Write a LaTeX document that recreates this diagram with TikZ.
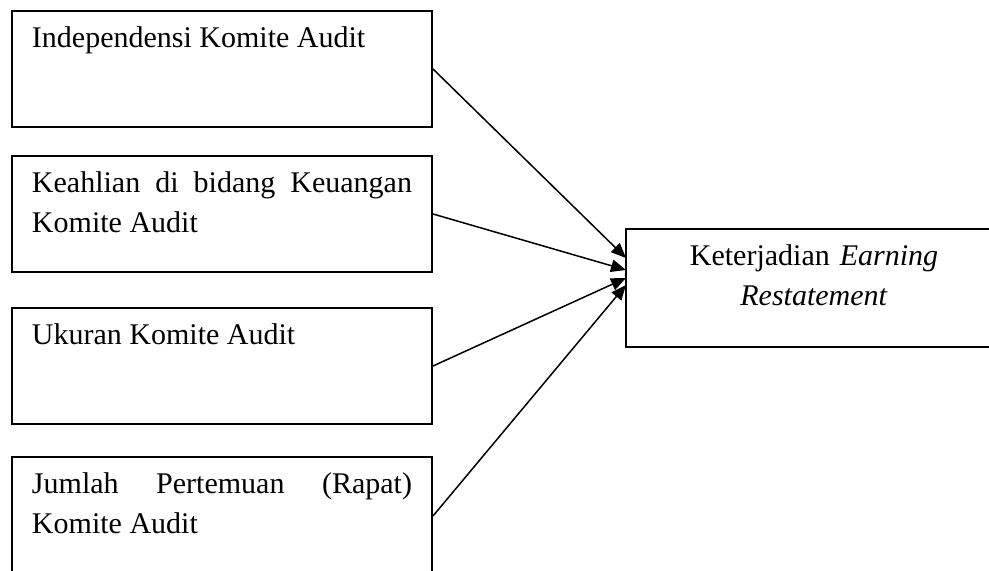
\documentclass[tikz,border=0pt]{standalone}
\usepackage{fontspec}
\setmainfont{Liberation Serif}
\usetikzlibrary{arrows.meta}

\tikzset{
  var/.style={draw, line width=0.8pt, anchor=north west, text width=152pt,
    align=justify, inner xsep=8pt, inner ysep=0pt, text height=14.8pt,
    text depth=31.6pt, font=\fontsize{12}{15.8}\selectfont},
  dep/.style={var, draw=none, text width=133.6pt, align=center},
  link/.style={-{Triangle[length=6pt,width=5pt]}, line width=0.6pt}
}

\begin{document}
\begin{tikzpicture}[x=0.4pt,y=-0.4pt]
\useasboundingbox (0,0) rectangle (989,571);

\node[var] (ind) at (11,10) {Independensi Komite Audit};
\node[var] (ahli) at (11,155) {Keahlian di bidang Keuangan\linebreak Komite Audit};
\node[var] (ukr) at (11,307) {Ukuran Komite Audit};
\node[var, text depth=32.4pt] (rapat) at (11,456) {Jumlah Pertemuan (Rapat)\linebreak Komite Audit};

\node[dep, text height=14.4pt, text depth=32pt] (er) at (626,229) {Keterjadian \textit{Earning}\\ \textit{Restatement}};
% box runs off the right edge of the page
\draw[line width=0.8pt] (er.north west) rectangle ([xshift=20pt]er.south east);

\draw[link] (ind.east) -- ([yshift=12pt]er.west);
\draw[link] (ahli.east) -- ([yshift=7.2pt]er.west);
\draw[link] (ukr.east) -- ([yshift=4pt]er.west);
\draw[link] (rapat.east) -- ([yshift=1.2pt]er.west);

\end{tikzpicture}
\end{document}
